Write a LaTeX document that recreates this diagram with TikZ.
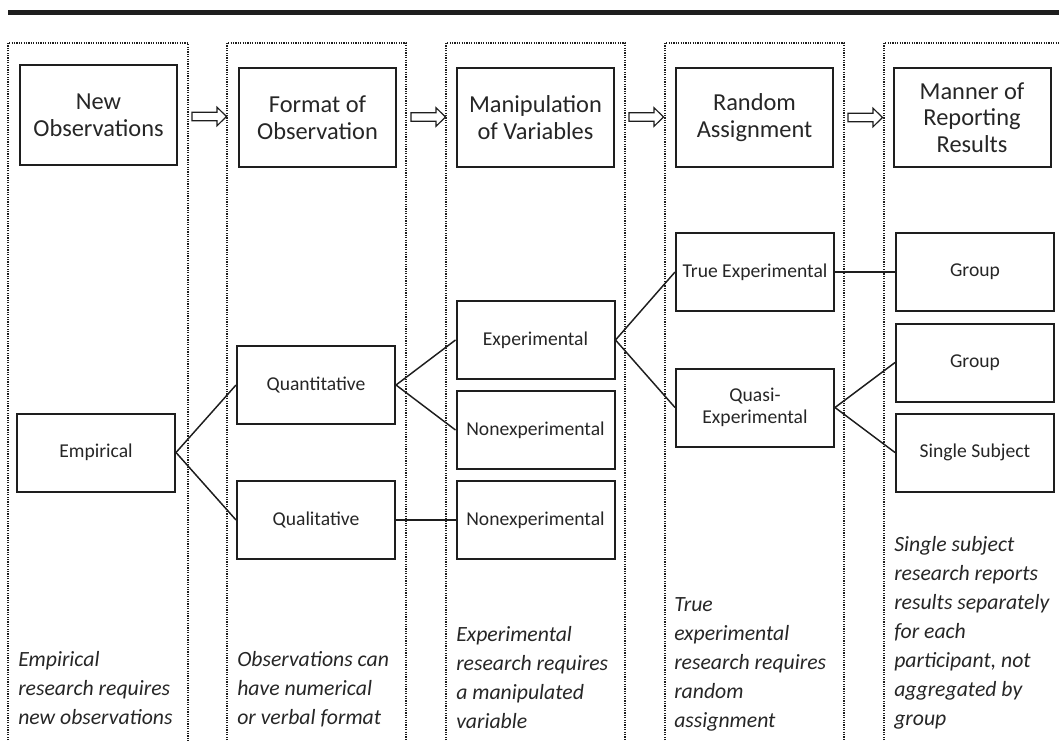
\documentclass[tikz,border=0pt]{standalone}
\usepackage{fontspec}
\setmainfont{Carlito}
\definecolor{ink}{HTML}{262626}
\definecolor{boxc}{HTML}{1E1E1E}
\begin{document}
\begin{tikzpicture}[x=0.75pt,y=-0.75pt,
  hdr/.style={draw=boxc, line width=1.5pt, minimum width=117.75pt, minimum height=74.25pt,
    align=center, inner sep=0pt, text=ink, font=\fontsize{18.3}{20}\selectfont},
  item/.style={draw=boxc, line width=1.5pt, minimum width=118.5pt, minimum height=58.5pt,
    align=center, inner sep=0pt, text=ink, font=\fontsize{14.7}{16.3}\selectfont},
  note/.style={anchor=base west, align=left, inner sep=0pt, text=ink,
    font=\fontsize{16.3}{21.75}\selectfont\itshape},
  link/.style={draw=boxc, line width=1.1pt},
  colline/.style={draw=boxc, line width=1.1pt, dash pattern=on 0.9pt off 0.9pt},
  barrow/.pic={\draw[boxc, line width=0.9pt, fill=white]
    (0,-4.2) -- (25,-4.2) -- (25,-9.3) -- (34.5,0) -- (25,9.3) -- (25,4.2) -- (0,4.2) -- cycle;}
]
\useasboundingbox (0,0) rectangle (1059,740);
% top rule
\fill[boxc] (8,9.5) rectangle (1070,14.5);
% dotted columns
\draw[colline] (8,745) -- (8,43) -- (188,43) -- (188,745);
\draw[colline] (227,745) -- (227,43) -- (406,43) -- (406,745);
\draw[colline] (446,745) -- (446,43) -- (625,43) -- (625,745);
\draw[colline] (665,745) -- (665,43) -- (844,43) -- (844,745);
\draw[colline] (884,745) -- (884,43) -- (1070,43);
% header boxes
\node[hdr, minimum height=75pt] (h1) at (98.5,115) {New\\Observations};
\node[hdr] (h2) at (317.5,117.5) {Format of\\Observation};
\node[hdr] (h3) at (535.5,117.5) {Manipulation\\of Variables};
\node[hdr] (h4) at (754.5,117.5) {Random\\Assignment};
\node[hdr] (h5) at (972,117.5) {Manner of\\Reporting\\Results};
% hollow arrows
\pic at (192,116.5) {barrow};
\pic at (411,117) {barrow};
\pic at (629,117) {barrow};
\pic at (848,117.5) {barrow};
% items
\node[item] (emp) at (96,452.5) {Empirical};
\node[item] (quan) at (316,385) {Quantitative};
\node[item] (qual) at (316,520) {Qualitative};
\node[item] (exp) at (535.5,340) {Experimental};
\node[item] (nonA) at (535.5,430) {Nonexperimental};
\node[item] (nonB) at (535.5,520) {Nonexperimental};
\node[item] (trueexp) at (755,272) {True Experimental};
\node[item] (quasi) at (755,407.5) {Quasi-\\Experimental};
\node[item] (grpA) at (975,272) {Group};
\node[item] (grpB) at (975,362.5) {Group};
\node[item] (single) at (975,452.5) {Single Subject};
% connectors
\draw[link] (emp.east) -- (quan.west);
\draw[link] (emp.east) -- (qual.west);
\draw[link] (quan.east) -- (exp.west);
\draw[link] (quan.east) -- (nonA.west);
\draw[link] (qual.east) -- (nonB.west);
\draw[link] (exp.east) -- (trueexp.west);
\draw[link] (exp.east) -- (quasi.west);
\draw[link] (trueexp.east) -- (grpA.west);
\draw[link] (quasi.east) -- (grpB.west);
\draw[link] (quasi.east) -- (single.west);
% notes (anchored at the baseline of their last line)
\node[note] (n1) at (18,724) {Empirical\\research requires\\new observations};
\node[note] (n2) at (237,724) {Observations can\\have numerical\\or verbal format};
\node[note] (n3) at (456,728) {Experimental\\research requires\\a manipulated\\variable};
\node[note] (n4) at (674,727) {True\\experimental\\research requires\\random\\assignment};
\node[note] (n5) at (894,725) {Single subject\\research reports\\results separately\\for each\\participant, not\\aggregated by\\group};
\end{tikzpicture}
\end{document}
